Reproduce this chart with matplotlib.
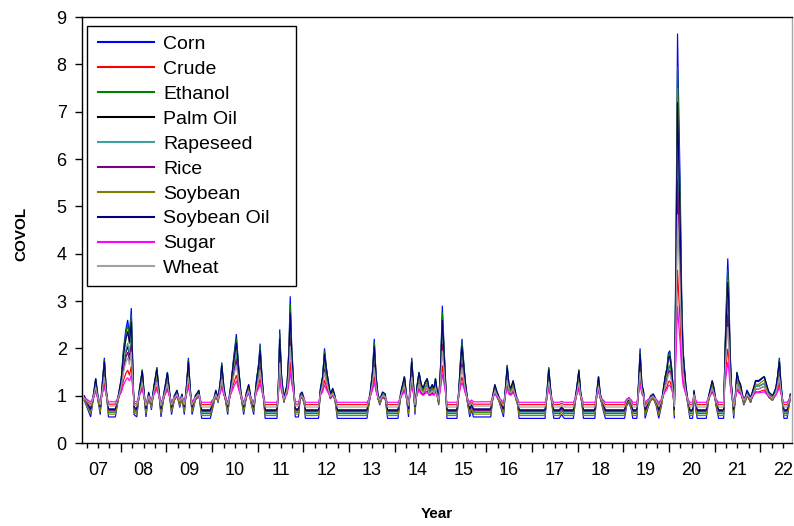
import matplotlib
matplotlib.use("Agg")
import matplotlib.pyplot as plt
from matplotlib.patches import Rectangle
from matplotlib.ticker import NullLocator

plt.rcParams["font.family"] = ["Liberation Sans", "DejaVu Sans"]

# Observation dates as fractional years
year = [
    2007.20, 2007.28, 2007.34, 2007.40, 2007.45, 2007.50, 2007.55, 2007.60, 2007.64, 2007.68,
    2007.73, 2007.88, 2007.95, 2008.01, 2008.06, 2008.11, 2008.15, 2008.19, 2008.23, 2008.26,
    2008.29, 2008.35, 2008.41, 2008.47, 2008.51, 2008.55, 2008.61, 2008.67, 2008.73, 2008.79,
    2008.84, 2008.88, 2008.96, 2009.02, 2009.07, 2009.11, 2009.17, 2009.23, 2009.29, 2009.34,
    2009.39, 2009.44, 2009.48, 2009.52, 2009.56, 2009.63, 2009.71, 2009.77, 2009.96, 2010.04,
    2010.08, 2010.13, 2010.18, 2010.21, 2010.26, 2010.34, 2010.41, 2010.47, 2010.53, 2010.58,
    2010.63, 2010.69, 2010.75, 2010.80, 2010.85, 2010.91, 2010.97, 2011.02, 2011.05, 2011.09,
    2011.12, 2011.16, 2011.42, 2011.45, 2011.48, 2011.52, 2011.57, 2011.64, 2011.68, 2011.71,
    2011.74, 2011.78, 2011.82, 2011.89, 2011.93, 2011.97, 2012.02, 2012.04, 2012.33, 2012.37,
    2012.42, 2012.46, 2012.50, 2012.54, 2012.59, 2012.64, 2012.69, 2012.74, 2013.39, 2013.46,
    2013.51, 2013.55, 2013.59, 2013.63, 2013.67, 2013.73, 2013.79, 2013.84, 2014.07, 2014.13,
    2014.17, 2014.21, 2014.25, 2014.30, 2014.34, 2014.37, 2014.41, 2014.44, 2014.49, 2014.53,
    2014.58, 2014.62, 2014.66, 2014.71, 2014.75, 2014.78, 2014.82, 2014.86, 2014.89, 2014.92,
    2014.96, 2015.00, 2015.04, 2015.08, 2015.11, 2015.14, 2015.36, 2015.40, 2015.44, 2015.47,
    2015.51, 2015.54, 2015.59, 2015.64, 2015.68, 2015.72, 2016.10, 2016.14, 2016.19, 2016.24,
    2016.29, 2016.38, 2016.42, 2016.46, 2016.50, 2016.54, 2016.59, 2016.66, 2016.69, 2016.72,
    2017.29, 2017.33, 2017.37, 2017.41, 2017.44, 2017.48, 2017.60, 2017.65, 2017.71, 2017.91,
    2017.98, 2018.03, 2018.07, 2018.10, 2018.13, 2018.38, 2018.42, 2018.46, 2018.50, 2018.56,
    2018.61, 2019.03, 2019.08, 2019.13, 2019.18, 2019.21, 2019.30, 2019.34, 2019.37, 2019.41,
    2019.45, 2019.48, 2019.53, 2019.60, 2019.66, 2019.72, 2019.78, 2019.85, 2019.88, 2019.92,
    2019.96, 2019.99, 2020.02, 2020.06, 2020.09, 2020.12, 2020.16, 2020.19, 2020.21, 2020.25,
    2020.28, 2020.31, 2020.34, 2020.37, 2020.41, 2020.46, 2020.52, 2020.55, 2020.59, 2020.62,
    2020.82, 2020.87, 2020.91, 2020.95, 2020.99, 2021.03, 2021.09, 2021.20, 2021.23, 2021.26,
    2021.29, 2021.31, 2021.34, 2021.37, 2021.42, 2021.46, 2021.49, 2021.53, 2021.57, 2021.61,
    2021.64, 2021.68, 2021.71, 2021.75, 2021.79, 2021.85, 2021.90, 2021.97, 2022.03, 2022.09,
    2022.14, 2022.19, 2022.27, 2022.34, 2022.38, 2022.42, 2022.45, 2022.49, 2022.52, 2022.59,
    2022.66,
]

corn = [
    0.90, 0.70, 0.55, 0.95, 1.35, 0.90, 0.60, 1.30, 1.80, 1.10,
    0.55, 0.55, 0.95, 1.35, 2.00, 2.40, 2.60, 2.30, 2.85, 1.70,
    0.60, 0.55, 1.10, 1.55, 1.00, 0.55, 1.00, 0.70, 1.20, 1.60,
    1.00, 0.55, 1.10, 1.50, 1.00, 0.60, 0.90, 1.05, 0.75, 0.95,
    0.60, 1.20, 1.80, 1.10, 0.60, 0.90, 1.05, 0.52, 0.52, 0.85,
    1.05, 0.85, 1.30, 1.70, 1.10, 0.60, 1.20, 1.80, 2.30, 1.60,
    1.00, 0.60, 1.00, 1.20, 0.85, 0.60, 1.30, 1.70, 2.10, 1.40,
    1.00, 0.52, 0.52, 1.20, 2.40, 1.40, 0.85, 1.20, 2.00, 3.10,
    2.10, 1.30, 0.55, 0.55, 0.95, 1.00, 0.80, 0.52, 0.52, 1.10,
    1.40, 2.00, 1.60, 1.30, 0.95, 1.10, 0.90, 0.52, 0.52, 1.00,
    1.50, 2.20, 1.40, 0.95, 0.80, 1.00, 0.95, 0.52, 0.52, 1.00,
    1.20, 1.40, 1.00, 0.55, 1.30, 1.80, 1.20, 0.60, 1.20, 1.50,
    1.20, 1.10, 1.25, 1.35, 1.10, 1.10, 1.20, 1.10, 1.35, 1.10,
    0.80, 1.60, 2.90, 2.00, 1.30, 0.52, 0.52, 1.05, 1.80, 2.20,
    1.70, 1.30, 0.85, 0.55, 0.70, 0.55, 0.55, 0.90, 1.20, 1.00,
    0.85, 0.55, 1.10, 1.65, 1.20, 1.10, 1.30, 0.90, 0.80, 0.52,
    0.52, 1.00, 1.60, 1.10, 0.80, 0.52, 0.52, 0.60, 0.52, 0.52,
    1.10, 1.55, 1.00, 0.80, 0.52, 0.52, 1.00, 1.40, 0.95, 0.70,
    0.52, 0.52, 0.80, 0.85, 0.70, 0.52, 0.52, 1.30, 2.00, 1.20,
    1.00, 0.52, 0.70, 0.90, 0.95, 0.80, 0.52, 0.85, 1.10, 1.40,
    1.60, 1.90, 1.95, 1.60, 1.20, 0.52, 4.70, 8.65, 7.45, 5.35,
    3.20, 2.00, 1.60, 1.20, 0.85, 0.52, 0.52, 1.05, 0.70, 0.52,
    0.52, 0.90, 1.10, 1.30, 1.10, 0.80, 0.52, 0.52, 2.00, 3.00,
    3.90, 3.40, 2.00, 1.20, 0.52, 1.00, 1.50, 1.30, 1.20, 0.95,
    0.80, 0.90, 1.05, 0.95, 0.85, 1.10, 1.30, 1.30, 1.35, 1.40,
    1.20, 1.00, 0.90, 1.10, 1.40, 1.80, 1.30, 0.80, 0.52, 0.52,
    0.95,
]

crude = [
    .94, .87, .82, .96, 1.10, .94, .84, 1.08, 1.26, 1.01,
    .82, .82, .96, 1.10, 1.33, 1.47, 1.54, 1.43, 1.63, 1.22,
    .84, .82, 1.01, 1.17, .98, .82, .98, .87, 1.05, 1.19,
    .98, .82, 1.01, 1.15, .98, .84, .94, 1.00, .89, .96,
    .84, 1.05, 1.26, 1.01, .84, .94, 1.00, .81, .81, .93,
    1.00, .93, 1.08, 1.22, 1.01, .84, 1.05, 1.26, 1.43, 1.19,
    .98, .84, .98, 1.05, .93, .84, 1.08, 1.22, 1.36, 1.12,
    .98, .81, .81, 1.05, 1.47, 1.12, .93, 1.05, 1.33, 1.71,
    1.36, 1.08, .82, .82, .96, .98, .91, .81, .81, 1.01,
    1.12, 1.33, 1.19, 1.08, .96, 1.01, .94, .81, .81, .98,
    1.15, 1.40, 1.12, .96, .91, .98, .96, .81, .81, .98,
    1.05, 1.12, .98, .82, 1.08, 1.26, 1.05, .84, 1.05, 1.15,
    1.05, 1.01, 1.07, 1.10, 1.01, 1.01, 1.05, 1.01, 1.10, 1.01,
    .91, 1.19, 1.64, 1.33, 1.08, .81, .81, 1.00, 1.26, 1.40,
    1.22, 1.08, .93, .82, .87, .82, .82, .94, 1.05, .98,
    .93, .82, 1.01, 1.21, 1.05, 1.01, 1.08, .94, .91, .81,
    .81, .98, 1.19, 1.01, .91, .81, .81, .84, .81, .81,
    1.01, 1.17, .98, .91, .81, .81, .98, 1.12, .96, .87,
    .81, .81, .91, .93, .87, .81, .81, 1.08, 1.33, 1.05,
    .98, .81, .87, .94, .96, .91, .81, .93, 1.01, 1.12,
    1.19, 1.29, 1.31, 1.19, 1.05, .81, 2.27, 3.66, 3.24, 2.50,
    1.75, 1.33, 1.19, 1.05, .93, .81, .81, 1.00, .87, .81,
    .81, .94, 1.01, 1.08, 1.01, .91, .81, .81, 1.33, 1.68,
    1.99, 1.82, 1.33, 1.05, .81, .98, 1.15, 1.08, 1.05, .96,
    .91, .94, 1.00, .96, .93, 1.01, 1.08, 1.08, 1.10, 1.12,
    1.05, .98, .94, 1.01, 1.12, 1.26, 1.08, .91, .81, .81,
    .96,
]

ethanol = [
    .96, .78, .65, 1.01, 1.37, .96, .69, 1.32, 1.77, 1.14,
    .65, .65, 1.01, 1.37, 1.95, 2.31, 2.49, 2.22, 2.72, 1.68,
    .69, .65, 1.14, 1.55, 1.05, .65, 1.05, .78, 1.23, 1.59,
    1.05, .65, 1.14, 1.50, 1.05, .69, .96, 1.10, .83, 1.01,
    .69, 1.23, 1.77, 1.14, .69, .96, 1.10, .62, .62, .92,
    1.10, .92, 1.32, 1.68, 1.14, .69, 1.23, 1.77, 2.22, 1.59,
    1.05, .69, 1.05, 1.23, .92, .69, 1.32, 1.68, 2.04, 1.41,
    1.05, .62, .62, 1.23, 2.31, 1.41, .92, 1.23, 1.95, 2.94,
    2.04, 1.32, .65, .65, 1.01, 1.05, .87, .62, .62, 1.14,
    1.41, 1.95, 1.59, 1.32, 1.01, 1.14, .96, .62, .62, 1.05,
    1.50, 2.13, 1.41, 1.01, .87, 1.05, 1.01, .62, .62, 1.05,
    1.23, 1.41, 1.05, .65, 1.32, 1.77, 1.23, .69, 1.23, 1.50,
    1.23, 1.14, 1.28, 1.37, 1.14, 1.14, 1.23, 1.14, 1.37, 1.14,
    .87, 1.59, 2.76, 1.95, 1.32, .62, .62, 1.10, 1.77, 2.13,
    1.68, 1.32, .92, .65, .78, .65, .65, .96, 1.23, 1.05,
    .92, .65, 1.14, 1.64, 1.23, 1.14, 1.32, .96, .87, .62,
    .62, 1.05, 1.59, 1.14, .87, .62, .62, .69, .62, .62,
    1.14, 1.55, 1.05, .87, .62, .62, 1.05, 1.41, 1.01, .78,
    .62, .62, .87, .92, .78, .62, .62, 1.32, 1.95, 1.23,
    1.05, .62, .78, .96, 1.01, .87, .62, .92, 1.14, 1.41,
    1.59, 1.86, 1.91, 1.59, 1.23, .62, 4.38, 7.94, 6.86, 4.97,
    3.03, 1.95, 1.59, 1.23, .92, .62, .62, 1.10, .78, .62,
    .62, .96, 1.14, 1.32, 1.14, .87, .62, .62, 1.95, 2.85,
    3.66, 3.21, 1.95, 1.23, .62, 1.05, 1.50, 1.32, 1.23, 1.01,
    .87, .96, 1.10, 1.01, .92, 1.14, 1.32, 1.32, 1.37, 1.41,
    1.23, 1.05, .96, 1.14, 1.41, 1.77, 1.32, .87, .62, .62,
    1.01,
]

palm_oil = [
    .94, .81, .71, .97, 1.23, .94, .74, 1.20, 1.52, 1.07,
    .71, .71, .97, 1.23, 1.65, 1.91, 2.04, 1.85, 2.20, 1.46,
    .74, .71, 1.07, 1.36, 1.00, .71, 1.00, .81, 1.13, 1.39,
    1.00, .71, 1.07, 1.33, 1.00, .74, .94, 1.03, .84, .97,
    .74, 1.13, 1.52, 1.07, .74, .94, 1.03, .69, .69, .90,
    1.03, .90, 1.20, 1.46, 1.07, .74, 1.13, 1.52, 1.85, 1.39,
    1.00, .74, 1.00, 1.13, .90, .74, 1.20, 1.46, 1.72, 1.26,
    1.00, .69, .69, 1.13, 1.91, 1.26, .90, 1.13, 1.65, 2.37,
    1.72, 1.20, .71, .71, .97, 1.00, .87, .69, .69, 1.07,
    1.26, 1.65, 1.39, 1.20, .97, 1.07, .94, .69, .69, 1.00,
    1.33, 1.78, 1.26, .97, .87, 1.00, .97, .69, .69, 1.00,
    1.13, 1.26, 1.00, .71, 1.20, 1.52, 1.13, .74, 1.13, 1.33,
    1.13, 1.07, 1.16, 1.23, 1.07, 1.07, 1.13, 1.07, 1.23, 1.07,
    .87, 1.39, 2.24, 1.65, 1.20, .69, .69, 1.03, 1.52, 1.78,
    1.46, 1.20, .90, .71, .81, .71, .71, .94, 1.13, 1.00,
    .90, .71, 1.07, 1.42, 1.13, 1.07, 1.20, .94, .87, .69,
    .69, 1.00, 1.39, 1.07, .87, .69, .69, .74, .69, .69,
    1.07, 1.36, 1.00, .87, .69, .69, 1.00, 1.26, .97, .81,
    .69, .69, .87, .90, .81, .69, .69, 1.20, 1.65, 1.13,
    1.00, .69, .81, .94, .97, .87, .69, .90, 1.07, 1.26,
    1.39, 1.59, 1.62, 1.39, 1.13, .69, 3.41, 5.97, 5.19, 3.83,
    2.43, 1.65, 1.39, 1.13, .90, .69, .69, 1.03, .81, .69,
    .69, .94, 1.07, 1.20, 1.07, .87, .69, .69, 1.65, 2.30,
    2.89, 2.56, 1.65, 1.13, .69, 1.00, 1.33, 1.20, 1.13, .97,
    .87, .94, 1.03, .97, .90, 1.07, 1.20, 1.20, 1.23, 1.26,
    1.13, 1.00, .94, 1.07, 1.26, 1.52, 1.20, .87, .69, .69,
    .97,
]

rapeseed = [
    .92, .78, .67, .95, 1.23, .92, .71, 1.20, 1.55, 1.06,
    .67, .67, .95, 1.23, 1.69, 1.97, 2.11, 1.90, 2.28, 1.48,
    .71, .67, 1.06, 1.37, .99, .67, .99, .78, 1.13, 1.41,
    .99, .67, 1.06, 1.34, .99, .71, .92, 1.02, .81, .95,
    .71, 1.13, 1.55, 1.06, .71, .92, 1.02, .65, .65, .88,
    1.02, .88, 1.20, 1.48, 1.06, .71, 1.13, 1.55, 1.90, 1.41,
    .99, .71, .99, 1.13, .88, .71, 1.20, 1.48, 1.76, 1.27,
    .99, .65, .65, 1.13, 1.97, 1.27, .88, 1.13, 1.69, 2.46,
    1.76, 1.20, .67, .67, .95, .99, .85, .65, .65, 1.06,
    1.27, 1.69, 1.41, 1.20, .95, 1.06, .92, .65, .65, .99,
    1.34, 1.83, 1.27, .95, .85, .99, .95, .65, .65, .99,
    1.13, 1.27, .99, .67, 1.20, 1.55, 1.13, .71, 1.13, 1.34,
    1.13, 1.06, 1.16, 1.23, 1.06, 1.06, 1.13, 1.06, 1.23, 1.06,
    .85, 1.41, 2.32, 1.69, 1.20, .65, .65, 1.02, 1.55, 1.83,
    1.48, 1.20, .88, .67, .78, .67, .67, .92, 1.13, .99,
    .88, .67, 1.06, 1.44, 1.13, 1.06, 1.20, .92, .85, .65,
    .65, .99, 1.41, 1.06, .85, .65, .65, .71, .65, .65,
    1.06, 1.37, .99, .85, .65, .65, .99, 1.27, .95, .78,
    .65, .65, .85, .88, .78, .65, .65, 1.20, 1.69, 1.13,
    .99, .65, .78, .92, .95, .85, .65, .88, 1.06, 1.27,
    1.41, 1.62, 1.65, 1.41, 1.13, .65, 3.58, 6.34, 5.50, 4.03,
    2.53, 1.69, 1.41, 1.13, .88, .65, .65, 1.02, .78, .65,
    .65, .92, 1.06, 1.20, 1.06, .85, .65, .65, 1.69, 2.39,
    3.02, 2.67, 1.69, 1.13, .65, .99, 1.34, 1.20, 1.13, .95,
    .85, .92, 1.02, .95, .88, 1.06, 1.20, 1.20, 1.23, 1.27,
    1.13, .99, .92, 1.06, 1.27, 1.55, 1.20, .85, .65, .65,
    .95,
]

rice = [
    .90, .78, .69, .93, 1.17, .90, .72, 1.14, 1.44, 1.02,
    .69, .69, .93, 1.17, 1.56, 1.80, 1.92, 1.74, 2.07, 1.38,
    .72, .69, 1.02, 1.29, .96, .69, .96, .78, 1.08, 1.32,
    .96, .69, 1.02, 1.26, .96, .72, .90, .99, .81, .93,
    .72, 1.08, 1.44, 1.02, .72, .90, .99, .67, .67, .87,
    .99, .87, 1.14, 1.38, 1.02, .72, 1.08, 1.44, 1.74, 1.32,
    .96, .72, .96, 1.08, .87, .72, 1.14, 1.38, 1.62, 1.20,
    .96, .67, .67, 1.08, 1.80, 1.20, .87, 1.08, 1.56, 2.22,
    1.62, 1.14, .69, .69, .93, .96, .84, .67, .67, 1.02,
    1.20, 1.56, 1.32, 1.14, .93, 1.02, .90, .67, .67, .96,
    1.26, 1.68, 1.20, .93, .84, .96, .93, .67, .67, .96,
    1.08, 1.20, .96, .69, 1.14, 1.44, 1.08, .72, 1.08, 1.26,
    1.08, 1.02, 1.11, 1.17, 1.02, 1.02, 1.08, 1.02, 1.17, 1.02,
    .84, 1.32, 2.10, 1.56, 1.14, .67, .67, .99, 1.44, 1.68,
    1.38, 1.14, .87, .69, .78, .69, .69, .90, 1.08, .96,
    .87, .69, 1.02, 1.35, 1.08, 1.02, 1.14, .90, .84, .67,
    .67, .96, 1.32, 1.02, .84, .67, .67, .72, .67, .67,
    1.02, 1.29, .96, .84, .67, .67, .96, 1.20, .93, .78,
    .67, .67, .84, .87, .78, .67, .67, 1.14, 1.56, 1.08,
    .96, .67, .78, .90, .93, .84, .67, .87, 1.02, 1.20,
    1.32, 1.50, 1.53, 1.32, 1.08, .67, 3.18, 5.55, 4.83, 3.57,
    2.28, 1.56, 1.32, 1.08, .87, .67, .67, .99, .78, .67,
    .67, .90, 1.02, 1.14, 1.02, .84, .67, .67, 1.56, 2.16,
    2.70, 2.40, 1.56, 1.08, .67, .96, 1.26, 1.14, 1.08, .93,
    .84, .90, .99, .93, .87, 1.02, 1.14, 1.14, 1.17, 1.20,
    1.08, .96, .90, 1.02, 1.20, 1.44, 1.14, .84, .67, .67,
    .93,
]

soybean = [
    .90, .73, .61, .95, 1.29, .90, .65, 1.24, 1.67, 1.07,
    .61, .61, .95, 1.29, 1.84, 2.18, 2.35, 2.09, 2.56, 1.58,
    .65, .61, 1.07, 1.46, .99, .61, .99, .73, 1.16, 1.50,
    .99, .61, 1.07, 1.41, .99, .65, .90, 1.03, .78, .95,
    .65, 1.16, 1.67, 1.07, .65, .90, 1.03, .58, .58, .86,
    1.03, .86, 1.24, 1.58, 1.07, .65, 1.16, 1.67, 2.09, 1.50,
    .99, .65, .99, 1.16, .86, .65, 1.24, 1.58, 1.92, 1.33,
    .99, .58, .58, 1.16, 2.18, 1.33, .86, 1.16, 1.84, 2.77,
    1.92, 1.24, .61, .61, .95, .99, .82, .58, .58, 1.07,
    1.33, 1.84, 1.50, 1.24, .95, 1.07, .90, .58, .58, .99,
    1.41, 2.01, 1.33, .95, .82, .99, .95, .58, .58, .99,
    1.16, 1.33, .99, .61, 1.24, 1.67, 1.16, .65, 1.16, 1.41,
    1.16, 1.07, 1.20, 1.29, 1.07, 1.07, 1.16, 1.07, 1.29, 1.07,
    .82, 1.50, 2.60, 1.84, 1.24, .58, .58, 1.03, 1.67, 2.01,
    1.58, 1.24, .86, .61, .73, .61, .61, .90, 1.16, .99,
    .86, .61, 1.07, 1.54, 1.16, 1.07, 1.24, .90, .82, .58,
    .58, .99, 1.50, 1.07, .82, .58, .58, .65, .58, .58,
    1.07, 1.46, .99, .82, .58, .58, .99, 1.33, .95, .73,
    .58, .58, .82, .86, .73, .58, .58, 1.24, 1.84, 1.16,
    .99, .58, .73, .90, .95, .82, .58, .86, 1.07, 1.33,
    1.50, 1.75, 1.80, 1.50, 1.16, .58, 4.13, 7.49, 6.47, 4.69,
    2.86, 1.84, 1.50, 1.16, .86, .58, .58, 1.03, .73, .58,
    .58, .90, 1.07, 1.24, 1.07, .82, .58, .58, 1.84, 2.69,
    3.45, 3.03, 1.84, 1.16, .58, .99, 1.41, 1.24, 1.16, .95,
    .82, .90, 1.03, .95, .86, 1.07, 1.24, 1.24, 1.29, 1.33,
    1.16, .99, .90, 1.07, 1.33, 1.67, 1.24, .82, .58, .58,
    .95,
]

soybean_oil = [
    1.00, .84, .72, 1.04, 1.36, 1.00, .76, 1.32, 1.72, 1.16,
    .72, .72, 1.04, 1.36, 1.88, 2.20, 2.36, 2.12, 2.56, 1.64,
    .76, .72, 1.16, 1.52, 1.08, .72, 1.08, .84, 1.24, 1.56,
    1.08, .72, 1.16, 1.48, 1.08, .76, 1.00, 1.12, .88, 1.04,
    .76, 1.24, 1.72, 1.16, .76, 1.00, 1.12, .70, .70, .96,
    1.12, .96, 1.32, 1.64, 1.16, .76, 1.24, 1.72, 2.12, 1.56,
    1.08, .76, 1.08, 1.24, .96, .76, 1.32, 1.64, 1.96, 1.40,
    1.08, .70, .70, 1.24, 2.20, 1.40, .96, 1.24, 1.88, 2.76,
    1.96, 1.32, .72, .72, 1.04, 1.08, .92, .70, .70, 1.16,
    1.40, 1.88, 1.56, 1.32, 1.04, 1.16, 1.00, .70, .70, 1.08,
    1.48, 2.04, 1.40, 1.04, .92, 1.08, 1.04, .70, .70, 1.08,
    1.24, 1.40, 1.08, .72, 1.32, 1.72, 1.24, .76, 1.24, 1.48,
    1.24, 1.16, 1.28, 1.36, 1.16, 1.16, 1.24, 1.16, 1.36, 1.16,
    .92, 1.56, 2.60, 1.88, 1.32, .70, .70, 1.12, 1.72, 2.04,
    1.64, 1.32, .96, .72, .84, .72, .72, 1.00, 1.24, 1.08,
    .96, .72, 1.16, 1.60, 1.24, 1.16, 1.32, 1.00, .92, .70,
    .70, 1.08, 1.56, 1.16, .92, .70, .70, .76, .70, .70,
    1.16, 1.52, 1.08, .92, .70, .70, 1.08, 1.40, 1.04, .84,
    .70, .70, .92, .96, .84, .70, .70, 1.32, 1.88, 1.24,
    1.08, .70, .84, 1.00, 1.04, .92, .70, .96, 1.16, 1.40,
    1.56, 1.80, 1.84, 1.56, 1.24, .70, 4.04, 7.20, 6.24, 4.56,
    2.84, 1.88, 1.56, 1.24, .96, .70, .70, 1.12, .84, .70,
    .70, 1.00, 1.16, 1.32, 1.16, .92, .70, .70, 1.88, 2.68,
    3.40, 3.00, 1.88, 1.24, .70, 1.08, 1.48, 1.32, 1.24, 1.04,
    .92, 1.00, 1.12, 1.04, .96, 1.16, 1.32, 1.32, 1.36, 1.40,
    1.24, 1.08, 1.00, 1.16, 1.40, 1.72, 1.32, .92, .70, .70,
    1.04,
]

sugar = [
    .96, .91, .87, .97, 1.07, .96, .88, 1.06, 1.18, 1.01,
    .87, .87, .97, 1.07, 1.23, 1.33, 1.38, 1.31, 1.44, 1.16,
    .88, .87, 1.01, 1.12, .98, .87, .98, .91, 1.03, 1.13,
    .98, .87, 1.01, 1.11, .98, .88, .96, .99, .92, .97,
    .88, 1.03, 1.18, 1.01, .88, .96, .99, .86, .86, .94,
    .99, .94, 1.06, 1.16, 1.01, .88, 1.03, 1.18, 1.31, 1.13,
    .98, .88, .98, 1.03, .94, .88, 1.06, 1.16, 1.26, 1.08,
    .98, .86, .86, 1.03, 1.33, 1.08, .94, 1.03, 1.23, 1.51,
    1.26, 1.06, .87, .87, .97, .98, .93, .86, .86, 1.01,
    1.08, 1.23, 1.13, 1.06, .97, 1.01, .96, .86, .86, .98,
    1.11, 1.28, 1.08, .97, .93, .98, .97, .86, .86, .98,
    1.03, 1.08, .98, .87, 1.06, 1.18, 1.03, .88, 1.03, 1.11,
    1.03, 1.01, 1.04, 1.07, 1.01, 1.01, 1.03, 1.01, 1.07, 1.01,
    .93, 1.13, 1.46, 1.23, 1.06, .86, .86, .99, 1.18, 1.28,
    1.16, 1.06, .94, .87, .91, .87, .87, .96, 1.03, .98,
    .94, .87, 1.01, 1.14, 1.03, 1.01, 1.06, .96, .93, .86,
    .86, .98, 1.13, 1.01, .93, .86, .86, .88, .86, .86,
    1.01, 1.12, .98, .93, .86, .86, .98, 1.08, .97, .91,
    .86, .86, .93, .94, .91, .86, .86, 1.06, 1.23, 1.03,
    .98, .86, .91, .96, .97, .93, .86, .94, 1.01, 1.08,
    1.13, 1.21, 1.22, 1.13, 1.03, .86, 1.91, 2.89, 2.59, 2.07,
    1.53, 1.23, 1.13, 1.03, .94, .86, .86, .99, .91, .86,
    .86, .96, 1.01, 1.06, 1.01, .93, .86, .86, 1.23, 1.48,
    1.71, 1.58, 1.23, 1.03, .86, .98, 1.11, 1.06, 1.03, .97,
    .93, .96, .99, .97, .94, 1.01, 1.06, 1.06, 1.07, 1.08,
    1.03, .98, .96, 1.01, 1.08, 1.18, 1.06, .93, .86, .86,
    .97,
]

wheat = [
    .95, .85, .78, .98, 1.18, .95, .80, 1.15, 1.40, 1.05,
    .78, .78, .98, 1.18, 1.50, 1.70, 1.80, 1.65, 1.93, 1.35,
    .80, .78, 1.05, 1.28, 1.00, .78, 1.00, .85, 1.10, 1.30,
    1.00, .78, 1.05, 1.25, 1.00, .80, .95, 1.03, .88, .98,
    .80, 1.10, 1.40, 1.05, .80, .95, 1.03, .76, .76, .93,
    1.03, .93, 1.15, 1.35, 1.05, .80, 1.10, 1.40, 1.65, 1.30,
    1.00, .80, 1.00, 1.10, .93, .80, 1.15, 1.35, 1.55, 1.20,
    1.00, .76, .76, 1.10, 1.70, 1.20, .93, 1.10, 1.50, 2.05,
    1.55, 1.15, .78, .78, .98, 1.00, .90, .76, .76, 1.05,
    1.20, 1.50, 1.30, 1.15, .98, 1.05, .95, .76, .76, 1.00,
    1.25, 1.60, 1.20, .98, .90, 1.00, .98, .76, .76, 1.00,
    1.10, 1.20, 1.00, .78, 1.15, 1.40, 1.10, .80, 1.10, 1.25,
    1.10, 1.05, 1.13, 1.18, 1.05, 1.05, 1.10, 1.05, 1.18, 1.05,
    .90, 1.30, 1.95, 1.50, 1.15, .76, .76, 1.03, 1.40, 1.60,
    1.35, 1.15, .93, .78, .85, .78, .78, .95, 1.10, 1.00,
    .93, .78, 1.05, 1.33, 1.10, 1.05, 1.15, .95, .90, .76,
    .76, 1.00, 1.30, 1.05, .90, .76, .76, .80, .76, .76,
    1.05, 1.28, 1.00, .90, .76, .76, 1.00, 1.20, .98, .85,
    .76, .76, .90, .93, .85, .76, .76, 1.15, 1.50, 1.10,
    1.00, .76, .85, .95, .98, .90, .76, .93, 1.05, 1.20,
    1.30, 1.45, 1.48, 1.30, 1.10, .76, 2.85, 4.83, 4.23, 3.18,
    2.10, 1.50, 1.30, 1.10, .93, .76, .76, 1.03, .85, .76,
    .76, .95, 1.05, 1.15, 1.05, .90, .76, .76, 1.50, 2.00,
    2.45, 2.20, 1.50, 1.10, .76, 1.00, 1.25, 1.15, 1.10, .98,
    .90, .95, 1.03, .98, .93, 1.05, 1.15, 1.15, 1.18, 1.20,
    1.10, 1.00, .95, 1.05, 1.20, 1.40, 1.15, .90, .76, .76,
    .98,
]

names = ["Corn", "Crude", "Ethanol", "Palm Oil", "Rapeseed",
         "Rice", "Soybean", "Soybean Oil", "Sugar", "Wheat"]
colors = ["#0000ff", "#ff0000", "#008000", "#000000", "#40a0a0",
          "#800080", "#808000", "#000080", "#ff00ff", "#a0a0a0"]
values = [corn, crude, ethanol, palm_oil, rapeseed,
          rice, soybean, soybean_oil, sugar, wheat]

W, H = 794, 526
fig = plt.figure(figsize=(W / 100, H / 100), dpi=100)
ax_l, ax_r, ax_t, ax_b = 82, 791.7, 17, 443
ax = fig.add_axes([ax_l / W, 1 - ax_b / H, (ax_r - ax_l) / W, (ax_b - ax_t) / H])

for name, vals, col in zip(names, values, colors):
    ax.plot(year, vals, color=col, lw=0.85, label=name, solid_joinstyle="miter")

ax.set_xlim(2007.15, 2022.69)
ax.set_ylim(0, 9)

# y axis
ax.set_yticks(range(0, 10))
ax.tick_params(axis="y", direction="out", length=5, width=1, pad=6, labelsize=13)

# x axis: long ticks at year boundaries, short ticks each quarter
ax.set_xticks(range(2008, 2023))
ax.set_xticklabels([])
ax.set_xticks([2007 + q / 4 for q in range(1, 63) if q % 4], minor=True)
ax.tick_params(axis="x", which="major", direction="out", length=6.5, width=1)
ax.tick_params(axis="x", which="minor", direction="out", length=3.6, width=1)

# year labels centred under each year
lab_years = list(range(2007, 2023))
sec = ax.secondary_xaxis("bottom")
sec.set_xticks([y + 0.5 for y in lab_years], labels=[f"{y % 100:02d}" for y in lab_years])
sec.xaxis.set_minor_locator(NullLocator())
sec.tick_params(length=0, pad=14, labelsize=13)
sec.spines["bottom"].set_visible(False)

for side in ("left", "bottom", "top"):
    ax.spines[side].set_color("black")
    ax.spines[side].set_linewidth(1.0)
ax.spines["right"].set_color("#a8a8a8")
ax.spines["right"].set_linewidth(1.0)

ax.set_ylabel("COVOL", fontsize=11, fontweight="bold")
ax.yaxis.set_label_coords((28 - ax_l) / (ax_r - ax_l), 0.49)
ax.set_xlabel("Year", fontsize=11, fontweight="bold")
ax.xaxis.set_label_coords(0.5, (ax_b - 507) / (ax_b - ax_t))

# legend frame and entries
frame = Rectangle((86.7 / W, 1 - 285.7 / H), (296 - 86.7) / W, (285.7 - 26) / H,
                  transform=fig.transFigure, facecolor="white", edgecolor="black",
                  linewidth=1.0, zorder=4, clip_on=False)
ax.add_patch(frame)
leg = ax.legend(loc="upper left", bbox_to_anchor=(98 / W, 1 - 35.5 / H),
                bbox_transform=fig.transFigure, frameon=False, fontsize=14,
                borderpad=0, borderaxespad=0, handlelength=2.88,
                handletextpad=0.46, labelspacing=0.375)
leg.set_zorder(5)
for line in leg.get_lines():
    line.set_linewidth(1.5)

fig.savefig("out.png", dpi=100)
